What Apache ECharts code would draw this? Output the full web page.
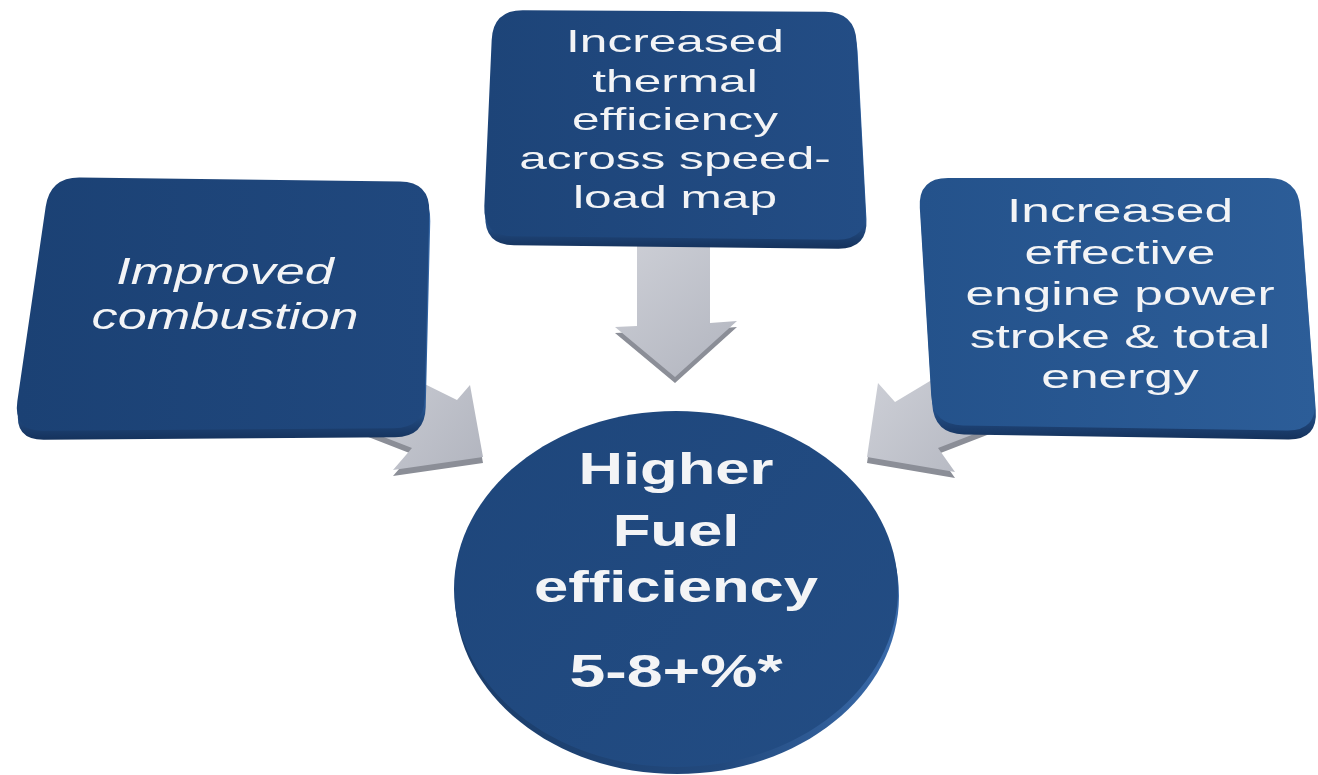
<!DOCTYPE html>
<html>
<head>
<meta charset="utf-8">
<script src="https://cdn.jsdelivr.net/npm/echarts@6/dist/echarts.min.js"></script>
<style>
  html, body { margin: 0; padding: 0; background: #ffffff; }
  #chart { width: 1318px; height: 775px; }
</style>
</head>
<body>
<div id="chart"></div>
<script>
// ---- Diagram text ----
const topLines = ['Increased', 'thermal', 'efficiency', 'across speed-', 'load map'];
const leftLines = ['Improved', 'combustion'];
const rightLines = ['Increased', 'effective', 'engine power', 'stroke & total', 'energy'];
const outcomeLines = ['Higher', 'Fuel', 'efficiency'];
const outcomeValue = ['5-8+%*'];

// ---- Layout (plot units = pixels of a 1318 x 775 canvas) ----
const W = 1318, H = 775;
const FONT = '"Liberation Sans", Arial, Helvetica, sans-serif';

const boxLayout = [
  { lines: topLines,
    corners: [[493, 10], [855, 12], [867, 240], [483, 236]],
    faceColors: ['#1d4478', '#234d85'],
    text: { cx: 675, baselines: [50, 90, 128, 167, 206], size: 32, sx: 1.55, style: 'normal' } },
  { lines: leftLines,
    corners: [[50, 177], [430, 182], [424, 428], [13, 431]],
    faceColors: ['#1b4174', '#20487e'],
    text: { cx: 225, baselines: [282, 327], size: 36, sx: 1.45, style: 'italic' } },
  { lines: rightLines,
    corners: [[918, 178], [1298, 178], [1317, 431], [933, 425]],
    faceColors: ['#24528b', '#2c5d98'],
    text: { cx: 1120, baselines: [220, 262, 303, 346, 386], size: 33, sx: 1.56, style: 'normal' } }
];

const arrowLayout = [
  { pts: [[637, 228], [710, 228], [710, 323], [737, 321], [675, 377], [615, 327], [637, 326]] },
  { pts: [[372, 358], [457, 400], [470, 385], [483, 457], [393, 470], [412, 448], [340, 420]] },
  { pts: [[965, 360], [895, 402], [878, 383], [867, 457], [955, 472], [938, 448], [1000, 424]] }
];

const disc = { cx: 676, cy: 589, rx: 222, ry: 178 };
const outcomeText = { cx: 676, baselines: [482, 544, 600], size: 44, sx: 1.4,
                      valueBaseline: 684, valueSize: 46 };

// ---- Helpers ----
function toward(from, to, r) {
  const dx = to[0] - from[0], dy = to[1] - from[1];
  const L = Math.hypot(dx, dy);
  return [from[0] + dx / L * r, from[1] + dy / L * r];
}
function roundedPath(p, r) {
  const n = p.length;
  let d = '';
  for (let i = 0; i < n; i++) {
    const prev = p[(i - 1 + n) % n], cur = p[i], next = p[(i + 1) % n];
    const a = toward(cur, prev, r), b = toward(cur, next, r);
    d += (i === 0 ? 'M' : 'L') + a[0] + ' ' + a[1] +
         ' Q' + cur[0] + ' ' + cur[1] + ' ' + b[0] + ' ' + b[1] + ' ';
  }
  return d + 'Z';
}
// one centred line of text sitting on the given baseline, stretched horizontally
function textLine(api, str, cx, baseline, size, sx, weight, style) {
  const p = api.coord([cx, baseline - 0.22 * size]);
  return {
    type: 'text', x: p[0], y: p[1], scaleX: sx, scaleY: 1,
    style: {
      text: str, fontFamily: FONT, fontSize: size, fontWeight: weight, fontStyle: style,
      fill: '#f3f4f6', align: 'center', verticalAlign: 'middle',
      shadowColor: 'rgba(0,0,0,0.35)', shadowBlur: 2, shadowOffsetY: 1
    }
  };
}

// ---- Render functions ----
function renderArrows(params, api) {
  const children = [];
  arrowLayout.forEach(a => {
    const pts = a.pts.map(q => api.coord(q));
    const rim = pts.map(q => [q[0], q[1] + 6]);
    children.push({ type: 'polygon', shape: { points: rim },
      style: { fill: '#8b8e97' } });
    children.push({ type: 'polygon', shape: { points: pts },
      style: { fill: new echarts.graphic.LinearGradient(0, 0, 1, 1, [
        { offset: 0, color: '#cfd1d8' }, { offset: 1, color: '#b2b5bf' }]) } });
  });
  return { type: 'group', children };
}

function renderBoxes(params, api) {
  const children = [];
  boxLayout.forEach(b => {
    const pts = b.corners.map(q => api.coord(q));
    const rimPts = pts.map(q => [q[0] + 1, q[1] + 9]);
    children.push({ type: 'path', shape: { pathData: roundedPath(rimPts, 30) },
      style: { fill: new echarts.graphic.LinearGradient(0, 0, 0, 1, [
        { offset: 0, color: '#3b6eae' }, { offset: 0.85, color: '#2a5a97' }, { offset: 1, color: '#15325c' }]) } });
    children.push({ type: 'path', shape: { pathData: roundedPath(pts, 30) },
      style: { fill: new echarts.graphic.LinearGradient(0, 0, 1, 0, [
        { offset: 0, color: b.faceColors[0] }, { offset: 1, color: b.faceColors[1] }]) } });
    const t = b.text;
    b.lines.forEach((s, i) => {
      children.push(textLine(api, s, t.cx, t.baselines[i], t.size, t.sx, 'normal', t.style));
    });
  });
  return { type: 'group', children };
}

function renderDisc(params, api) {
  const c = api.coord([disc.cx, disc.cy]);
  const r = api.size([disc.rx, disc.ry]);
  const children = [
    { type: 'ellipse', shape: { cx: c[0] + 1, cy: c[1] + 7, rx: r[0], ry: r[1] },
      style: { fill: new echarts.graphic.LinearGradient(0, 0, 1, 0, [
        { offset: 0, color: '#1a3c69' }, { offset: 0.6, color: '#22497d' }, { offset: 1, color: '#3a6bab' }]) } },
    { type: 'ellipse', shape: { cx: c[0], cy: c[1], rx: r[0], ry: r[1] },
      style: { fill: new echarts.graphic.LinearGradient(0, 0, 1, 1, [
        { offset: 0, color: '#1e467b' }, { offset: 1, color: '#234d84' }]) } }
  ];
  outcomeLines.forEach((s, i) => {
    children.push(textLine(api, s, outcomeText.cx, outcomeText.baselines[i],
      outcomeText.size, outcomeText.sx, 'bold', 'normal'));
  });
  children.push(textLine(api, outcomeValue[0], outcomeText.cx, outcomeText.valueBaseline,
    outcomeText.valueSize, outcomeText.sx, 'bold', 'normal'));
  return { type: 'group', children };
}

// ---- Chart ----
const chart = echarts.init(document.getElementById('chart'), null, { renderer: 'canvas' });
chart.setOption({
  backgroundColor: '#ffffff',
  animation: false,
  grid: { left: 0, right: 0, top: 0, bottom: 0 },
  xAxis: { type: 'value', min: 0, max: W, show: false },
  yAxis: { type: 'value', min: 0, max: H, inverse: true, show: false },
  series: [
    { type: 'custom', name: 'arrows', coordinateSystem: 'cartesian2d', clip: false, silent: true,
      data: [[0, 0]], renderItem: renderArrows, z: 1 },
    { type: 'custom', name: 'factors', coordinateSystem: 'cartesian2d', clip: false, silent: true,
      data: [[0, 0]], renderItem: renderBoxes, z: 2 },
    { type: 'custom', name: 'outcome', coordinateSystem: 'cartesian2d', clip: false, silent: true,
      data: [[0, 0]], renderItem: renderDisc, z: 3 }
  ]
});
</script>
</body>
</html>
